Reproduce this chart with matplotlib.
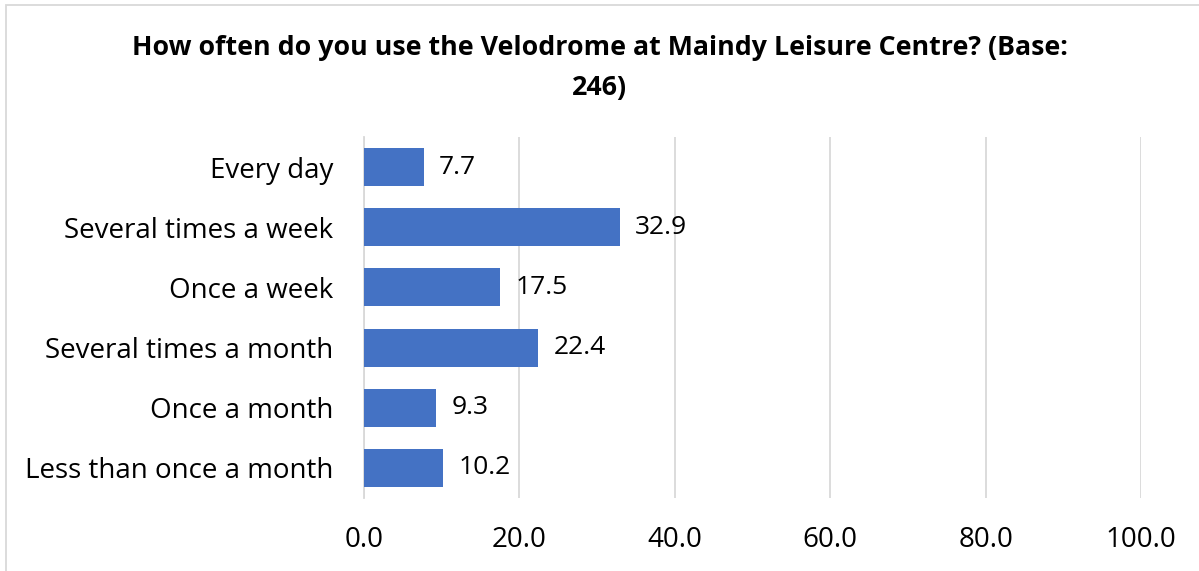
import matplotlib.pyplot as plt
from matplotlib.patches import Rectangle

categories = ['Every day', 'Several times a week', 'Once a week',
              'Several times a month', 'Once a month', 'Less than once a month']
values = [7.7, 32.9, 17.5, 22.4, 9.3, 10.2]
xticks = [0, 20, 40, 60, 80, 100]

plt.rcParams['font.family'] = ['Open Sans', 'DejaVu Sans']

fig = plt.figure(figsize=(11.99, 5.71), dpi=100)
ax = fig.add_axes([364/1199, 1 - 498/571, (1141 - 364)/1199, 361/571])

y = list(range(len(categories)))
ax.barh(y, values, height=0.63, color='#4472C4', zorder=3)
for yi, v in zip(y, values):
    ax.annotate(f'{v:.1f}', (v, yi), xytext=(11, 0), textcoords='offset points',
                va='center', ha='left', fontsize=19, color='#000000')

ax.set_xlim(0, 100)
ax.set_ylim(len(categories) - 0.5, -0.5)
ax.set_yticks(y)
ax.set_yticklabels(categories, fontsize=20)
ax.set_xticks(xticks)
ax.set_xticklabels([f'{t:.1f}' for t in xticks], fontsize=20)
ax.tick_params(length=0)
ax.tick_params(axis='y', pad=22)
ax.tick_params(axis='x', pad=20)
ax.grid(axis='x', color='#d9d9d9', linewidth=1.3, zorder=0)
for s in ['top', 'right', 'bottom']:
    ax.spines[s].set_visible(False)
ax.spines['left'].set_color('#d9d9d9')
ax.spines['left'].set_linewidth(1.3)

fig.text(0.5, 1 - 48/571, 'How often do you use the Velodrome at Maindy Leisure Centre? (Base:',
         ha='center', va='center', fontsize=19.3, fontweight='bold')
fig.text(0.5, 1 - 88/571, '246)', ha='center', va='center', fontsize=19.3, fontweight='bold')

fig.patches.append(Rectangle((6/1199, -0.1), 1.1, 1 - 5/571 + 0.1, transform=fig.transFigure,
                             fill=False, edgecolor='#d9d9d9', linewidth=1.3))

fig.savefig('out.png', dpi=100)
